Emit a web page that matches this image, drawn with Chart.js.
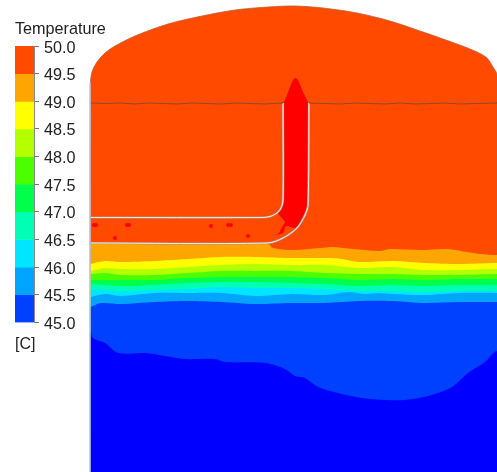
<!DOCTYPE html>
<html>
<head>
<meta charset="utf-8">
<title>Temperature</title>
<script src="https://cdn.jsdelivr.net/npm/chart.js@4/dist/chart.umd.min.js"></script>
<style>
  html, body { margin: 0; padding: 0; background: #fff; }
  #wrap { position: relative; width: 497px; height: 472px; overflow: hidden; }
  #tank { position: absolute; left: 0; top: 0; }
  #legendbar { position: absolute; left: 0; top: 0; }
</style>
</head>
<body>
<div id="wrap">
  <canvas id="tank" width="497" height="472"></canvas>
  <canvas id="legendbar" width="120" height="354"></canvas>
</div>
<script>
// colour bar levels, high to low
var levels = [50.0, 49.5, 49.0, 48.5, 48.0, 47.5, 47.0, 46.5, 46.0, 45.5, 45.0];
var levelColors = ["#ff4a00", "#ffa500", "#ffff00", "#b4ff00", "#4bff00", "#00ff4b", "#00ffb4", "#00e6ff", "#00a5ff", "#0040ff"];
var belowColor = "#0000ff";
var aboveColor = "#ff0000";

// tank outline
var tankEdge = [[90.5,472],[90.5,83],[92,72],[97,62],[105,53],[115,46],[135,36],[168,24],[202,16],[235,10],[268,7],[295,6],[323,8],[357,13],[390,21],[423,32],[457,44],[477,52],[487,58],[493,67],[497,75],[497,472]];

// isotherm curves, left to right
var iso495 = [[90.5,244],[268,244],[273,248],[293,250],[320,248],[333,247],[353,249],[380,251],[390,249],[420,250],[447,249],[467,252],[480,254],[497,255]];
var iso490 = [[90.5,264],[105,261],[121,262],[155,261],[188,259],[221,257],[255,257],[292,258],[325,258],[342,259],[359,262],[392,261],[425,263],[459,264],[497,263]];
var iso485 = [[90.5,271],[105,268],[121,269],[155,269],[188,267],[221,265],[255,264],[292,265],[325,265],[359,268],[392,267],[425,270],[459,270],[497,269]];
var iso480 = [[90.5,274],[105,273],[121,275],[155,275],[188,273],[221,271],[255,271],[292,271],[325,273],[359,274],[392,274],[425,275],[459,275],[497,274]];
var iso475 = [[90.5,280],[121,280],[155,280],[188,278],[221,277],[255,277],[292,277],[325,278],[359,280],[392,279],[425,280],[459,279],[497,279]];
var iso470 = [[90.5,284],[121,286],[155,285],[188,283],[221,282],[255,282],[292,283],[325,284],[359,286],[392,285],[425,286],[459,285],[497,285]];
var iso465 = [[90.5,289],[121,291],[155,290],[188,289],[221,287],[255,288],[292,288],[325,289],[359,291],[392,291],[425,292],[459,291],[497,291]];
var iso460 = [[90.5,297],[105,294],[121,296],[155,293],[188,293],[221,293],[255,296],[292,294],[325,295],[349,292],[365,294],[379,293],[392,294],[425,295],[459,293],[497,293]];
var iso455 = [[90.5,307],[101,303],[121,304],[155,302],[188,301],[221,302],[255,304],[292,303],[325,303],[359,301],[392,301],[425,303],[459,302],[497,302]];
var iso450 = [[90.5,330],[93,338],[105,343],[118,353],[145,353],[165,356],[185,359],[215,359],[225,362],[265,363],[285,369],[295,376],[305,378],[318,387],[338,393],[362,398],[385,400],[405,400],[428,396],[452,387],[468,373],[485,362],[497,351]];

// hot plume in the riser and the small spots in the inlet pipe
var plume = [[283,103],[285,100],[292,82],[295,78],[298,80],[303,92],[308,103],[308,205],[305,215],[300,226],[295,228],[286,226],[283,233],[275,235],[279,233],[282,227],[285,222],[278,213],[282,205]];
var spots = [[94,225],[96,225],[127,225],[129,225],[115,238],[211,226],[228,225],[231,225],[248,236]];

// pipe walls and the liquid surface
var wallInner = [[91,217.5],[262,217.5],[270,216.5],[277,213],[281,208],[283,200],[283,103]];
var wallOuter = [[91,243],[268,243],[283,238],[297,228],[305,215],[308,205],[309,103]];
var sideWall = [[90,83],[90,472]];
var surfaceLeft = [[91,103],[105,103.5],[120,103],[134,104],[149,103],[163,103.5],[178,104],[192,103],[207,103.5],[221,104],[236,103],[250,103.5],[265,104],[283,103]];
var surfaceRight = [[309,103],[325,103.5],[340,104],[355,103],[370,103.5],[385,104],[400,103],[415,104],[430,103.5],[445,103],[460,104],[475,103.5],[497,103]];

function toPts(list) {
    return list.map(function(p) { return {x: p[0], y: p[1]}; });
}

// curve plus the tank bottom corners gives everything colder than that level
// runs on past the right edge so the smoothing does not hook inside the picture
function below(curve) {
    var last = curve[curve.length - 1];
    return toPts(curve.concat([[540,last[1]],[540,472],[90.5,472]]));
}

function area(points, color, tension) {
    return {data: points, backgroundColor: color, borderColor: color, borderWidth: 0, fill: "shape", showLine: true, pointRadius: 0, tension: tension};
}

function stroke(list, color, width, tension) {
    return {data: toPts(list), borderColor: color, borderWidth: width, fill: false, showLine: true, pointRadius: 0, tension: tension || 0};
}

var curves = [iso495, iso490, iso485, iso480, iso475, iso470, iso465, iso460, iso455];

var datasets = [];
datasets.push(Object.assign(area(toPts(tankEdge), levelColors[0], 0.3), {borderColor: "#b8623a", borderWidth: 0.8}));
curves.forEach(function(curve, i) {
    datasets.push(area(below(curve), levelColors[i + 1], 0.3));
});
datasets.push(area(below(iso450), belowColor, 0.3));
datasets.push(area(toPts(plume), aboveColor, 0.2));
datasets.push({data: toPts(spots), backgroundColor: aboveColor, showLine: false, pointRadius: 2, pointBorderWidth: 0});
datasets.push(stroke(sideWall, "#c4c4d0", 1.5));
datasets.push(stroke(wallInner, "#b98f78", 2.2, 0.3));
datasets.push(stroke(wallInner, "#f4ece4", 1, 0.3));
datasets.push(stroke(wallOuter, "#b98f78", 2.2, 0.3));
datasets.push(stroke(wallOuter, "#f4ece4", 1, 0.3));
datasets.push(stroke(surfaceLeft, "#8c4a2c", 1));
datasets.push(stroke(surfaceRight, "#8c4a2c", 1));

// later datasets go on top
datasets.forEach(function(d, i) { d.order = datasets.length - i; });

new Chart(document.getElementById("tank"), {
    type: "scatter",
    data: {datasets: datasets},
    options: {
        responsive: false,
        animation: false,
        layout: {padding: 0, autoPadding: false},
        plugins: {legend: {display: false}, tooltip: {enabled: false}},
        scales: {
            x: {type: "linear", min: 0, max: 497, display: false},
            y: {type: "linear", min: 0, max: 472, reverse: true, display: false}
        }
    }
});

// colour bar
var barSets = levelColors.map(function(c, i) {
    return {data: [[levels[i + 1], levels[i]]], backgroundColor: c, borderWidth: 0, barPercentage: 1, categoryPercentage: 1, grouped: false};
});

new Chart(document.getElementById("legendbar"), {
    type: "bar",
    data: {labels: ["T"], datasets: barSets},
    options: {
        responsive: false,
        animation: false,
        layout: {padding: {left: 15, right: 0, top: 0, bottom: 0}, autoPadding: false},
        plugins: {
            legend: {display: false},
            tooltip: {enabled: false},
            title: {display: true, text: "Temperature", align: "start", color: "#222",
                font: {family: "'Liberation Sans'", size: 16.2, weight: "normal", lineHeight: 1.2},
                padding: {top: 20, bottom: 6.6}},
            subtitle: {display: true, text: "[C]", position: "bottom", align: "start", color: "#222",
                font: {family: "'Liberation Sans'", size: 16, weight: "normal", lineHeight: 1.2},
                padding: {top: 12.4, bottom: 0}}
        },
        scales: {
            x: {display: false},
            y: {
                position: "right", min: 45, max: 50,
                afterFit: function(axis) { axis.width = 86; },
                border: {color: "#8a8a8a"},
                grid: {drawOnChartArea: false, color: "#777", tickLength: 5},
                ticks: {stepSize: 0.5, padding: 5, labelOffset: 2, color: "#222",
                    font: {family: "'Liberation Sans'", size: 16.2},
                    callback: function(v) { return v.toFixed(1); }}
            }
        }
    }
});
</script>
</body>
</html>
